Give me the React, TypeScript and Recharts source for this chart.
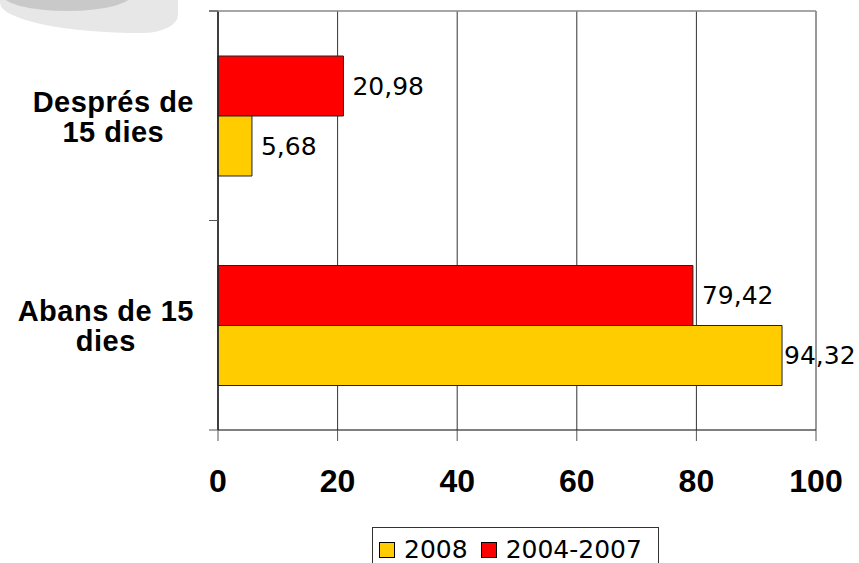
import React from "react";
import {
  BarChart,
  Bar,
  XAxis,
  YAxis,
  CartesianGrid,
  LabelList,
} from "recharts";

const categories = ["Després de 15 dies", "Abans de 15 dies"];
const categoryLines: Record<string, string[]> = {
  "Després de 15 dies": ["Després de", "15 dies"],
  "Abans de 15 dies": ["Abans de 15", "dies"],
};
const values2008 = [5.68, 94.32];
const values20042007 = [20.98, 79.42];
const xTicks = [0, 20, 40, 60, 80, 100];

const data = categories.map((c, i) => ({
  cat: c,
  y2008: values2008[i],
  y0407: values20042007[i],
}));

const W = 859;
const H = 563;
const MARGIN = { top: 11, right: 43, left: 0, bottom: 0 };

const catFont = "bold 29px 'Liberation Sans', Arial, sans-serif";
const labelFont = "25px 'DejaVu Sans', Verdana, sans-serif";

let ctx: CanvasRenderingContext2D | null = null;
function measure(text: string, font: string, spacing = 0) {
  if (!ctx) ctx = document.createElement("canvas").getContext("2d");
  if (!ctx) return text.length * 15;
  ctx.font = font;
  return ctx.measureText(text).width + spacing * text.length;
}

// two-line category label, the short ticks at the band edges and the grey top frame line
function CategoryTick(props: any) {
  const { x, y, payload } = props;
  const lines = categoryLines[payload.value] || [payload.value];
  const half = payload.offset || 0;
  const w = Math.max(...lines.map((l) => measure(l, catFont, 0.5)));
  const cx = x - 24 - w / 2;
  const isFirst = payload.value === categories[0];
  return (
    <g>
      {isFirst && (
        <line x1={x - 9} x2={W - MARGIN.right} y1={y - half} y2={y - half} stroke="#888" strokeWidth={1.5} />
      )}
      <line x1={x - 9} x2={x} y1={y - half} y2={y - half} stroke="#555" />
      <line x1={x - 9} x2={x} y1={y + half} y2={y + half} stroke="#555" />
      {lines.map((l, i) => (
        <text
          key={i}
          x={cx}
          y={y - 4 + i * 30}
          textAnchor="middle"
          fontFamily="'Liberation Sans', Arial, sans-serif"
          fontWeight="bold"
          fontSize={29}
          letterSpacing={0.5}
          fill="#000"
        >
          {l}
        </text>
      ))}
    </g>
  );
}

const fmt = (v: any) => String(v).replace(".", ",");

// value label right of the bar, pulled in when it would run off the page
function ValueLabel(props: any) {
  const { x, y, width, height, value } = props;
  const text = fmt(value);
  const w = measure(text, labelFont);
  let tx = x + width + 9;
  if (tx + w > W - 2) tx = x + width + 2;
  return (
    <text
      x={tx}
      y={y + height / 2}
      dominantBaseline="central"
      fontFamily="'DejaVu Sans', Verdana, sans-serif"
      fontSize={25}
      fill="#000"
    >
      {text}
    </text>
  );
}

export default function App() {
  return (
    <div
      style={{
        position: "absolute",
        left: 0,
        top: 0,
        width: W,
        height: H,
        overflow: "hidden",
        background: "#fff",
      }}
    >
      <div
        style={{
          position: "absolute",
          left: 0,
          top: -10,
          width: 178,
          height: 43,
          background: "#e8e7e8",
          borderRadius: "0 0 40px 160px / 0 0 20px 34px",
        }}
      />
      <div
        style={{
          position: "absolute",
          left: 2,
          top: -22,
          width: 130,
          height: 33,
          background: "#c9c9c9",
          borderRadius: "50%",
        }}
      />
      <BarChart
        width={W}
        height={H}
        data={data}
        layout="vertical"
        margin={MARGIN}
        barGap={0}
        style={{ position: "absolute", left: 0, top: 0 }}
      >
        <CartesianGrid horizontal={false} stroke="#333" />
        <XAxis
          type="number"
          domain={[0, 100]}
          ticks={xTicks}
          height={133}
          tickSize={11}
          tickMargin={28}
          axisLine={{ stroke: "#000" }}
          tickLine={{ stroke: "#555" }}
          tick={{
            fill: "#000",
            fontSize: 32,
            fontWeight: "bold",
            fontFamily: "'Liberation Sans', Arial, sans-serif",
          }}
        />
        <Bar
          dataKey="y0407"
          name="2004-2007"
          fill="#FF0000"
          stroke="#222"
          strokeWidth={1}
          barSize={60}
          isAnimationActive={false}
        >
          <LabelList dataKey="y0407" content={<ValueLabel />} />
        </Bar>
        <Bar
          dataKey="y2008"
          name="2008"
          fill="#FFCC00"
          stroke="#222"
          strokeWidth={1}
          barSize={60}
          isAnimationActive={false}
        >
          <LabelList dataKey="y2008" content={<ValueLabel />} />
        </Bar>
        <YAxis
          type="category"
          dataKey="cat"
          width={218}
          tickSize={0}
          tickMargin={0}
          tickLine={false}
          axisLine={{ stroke: "#222", strokeWidth: 1.5 }}
          tick={<CategoryTick />}
        />
      </BarChart>
      <div
        style={{
          position: "absolute",
          left: 372,
          top: 527,
          width: 287,
          height: 40,
          border: "1px solid #333",
          background: "#fff",
          display: "flex",
          alignItems: "flex-start",
          paddingTop: 9,
          boxSizing: "border-box",
          fontFamily: "'DejaVu Sans', Verdana, sans-serif",
          fontSize: 25,
          lineHeight: "25px",
          color: "#000",
        }}
      >
        <span style={{ display: "inline-block", width: 14, height: 14, background: "#FFCC00", border: "1px solid #000", marginLeft: 6, marginTop: 5 }} />
        <span style={{ marginLeft: 9 }}>2008</span>
        <span style={{ display: "inline-block", width: 14, height: 14, background: "#FF0000", border: "1px solid #000", marginLeft: 13, marginTop: 5 }} />
        <span style={{ marginLeft: 9 }}>2004-2007</span>
      </div>
    </div>
  );
}
